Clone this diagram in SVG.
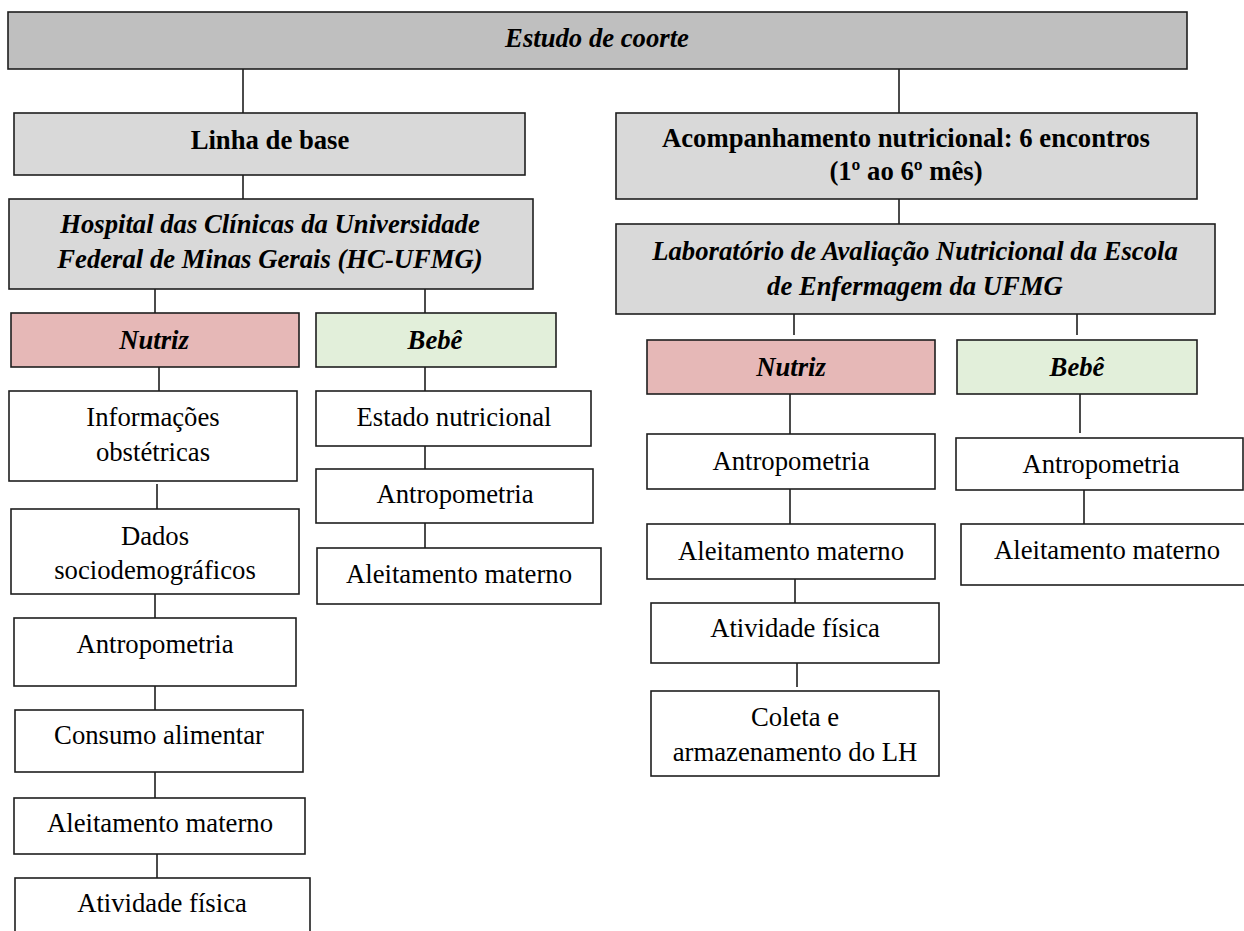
<svg xmlns="http://www.w3.org/2000/svg" width="1244" height="931" viewBox="0 0 1244 931">
<style>
rect{stroke:#1e1e1e;stroke-width:1.6}
.top{fill:#bfbfbf}
.sec{fill:#d9d9d9}
.nut{fill:#e6b8b7}
.beb{fill:#e2efda}
.wh{fill:#ffffff}
text{font-size:26.7px;fill:#000;text-anchor:middle}
.b{font-weight:bold}
.i{font-style:italic}
#connectors line{stroke:#1e1e1e;stroke-width:1.6}
</style>
<rect x="0" y="0" width="1244" height="931" fill="#ffffff" style="stroke:none"/>
<g id="connectors">
<line x1="243" y1="69" x2="243" y2="113"/>
<line x1="899" y1="69" x2="899" y2="113"/>
<line x1="243" y1="175" x2="243" y2="199"/>
<line x1="899" y1="199" x2="899" y2="224"/>
<line x1="155" y1="289" x2="155" y2="313"/>
<line x1="425" y1="289" x2="425" y2="313"/>
<line x1="159" y1="367" x2="159" y2="391"/>
<line x1="157" y1="484" x2="157" y2="509"/>
<line x1="155" y1="594" x2="155" y2="618"/>
<line x1="155" y1="686" x2="155" y2="710"/>
<line x1="155" y1="772" x2="155" y2="798"/>
<line x1="157" y1="854" x2="157" y2="878"/>
<line x1="425" y1="367" x2="425" y2="391"/>
<line x1="425" y1="446" x2="425" y2="469"/>
<line x1="425" y1="523" x2="425" y2="548"/>
<line x1="794" y1="313" x2="794" y2="335"/>
<line x1="1077" y1="313" x2="1077" y2="335"/>
<line x1="790" y1="394" x2="790" y2="434"/>
<line x1="790" y1="489" x2="790" y2="524"/>
<line x1="795" y1="579" x2="795" y2="603"/>
<line x1="797" y1="663" x2="797" y2="687"/>
<line x1="1080" y1="394" x2="1080" y2="433"/>
<line x1="1084" y1="490" x2="1084" y2="524"/>
</g>
<g font-family="'Liberation Serif', 'Times New Roman', 'DejaVu Serif', serif">
<g id="estudo"><rect class="top" x="8" y="12" width="1179" height="57"/><text class="b i" x="597" y="47">Estudo de coorte</text></g>
<g id="linha-base"><rect class="sec" x="14" y="113" width="511" height="62"/><text class="b" x="270" y="149">Linha de base</text></g>
<g id="hc-ufmg"><rect class="sec" x="9" y="199" width="524" height="90"/><text class="b i" x="270" y="233">Hospital das Clínicas da Universidade</text><text class="b i" x="270" y="268">Federal de Minas Gerais (HC-UFMG)</text></g>
<g id="nutriz-l"><rect class="nut" x="11" y="313" width="288" height="54"/><text class="b i" x="154" y="349">Nutriz</text></g>
<g id="bebe-l"><rect class="beb" x="316" y="313" width="240" height="54"/><text class="b i" x="435" y="349">Bebê</text></g>
<g id="info-obst"><rect class="wh" x="9" y="391" width="288" height="90"/><text x="153" y="426">Informações</text><text x="153" y="461">obstétricas</text></g>
<g id="dados-socio"><rect class="wh" x="11" y="509" width="288" height="85"/><text x="155" y="545">Dados</text><text x="155" y="579">sociodemográficos</text></g>
<g id="antro-l"><rect class="wh" x="14" y="618" width="282" height="68"/><text x="155" y="653">Antropometria</text></g>
<g id="consumo"><rect class="wh" x="15" y="710" width="288" height="62"/><text x="159" y="744">Consumo alimentar</text></g>
<g id="aleit-l"><rect class="wh" x="14" y="798" width="291" height="56"/><text x="160" y="832">Aleitamento materno</text></g>
<g id="ativ-l"><rect class="wh" x="15" y="878" width="295" height="60"/><text x="162" y="912">Atividade física</text></g>
<g id="estado-bebe-l"><rect class="wh" x="316" y="391" width="275" height="55"/><text x="454" y="426">Estado nutricional</text></g>
<g id="antro-bebe-l"><rect class="wh" x="316" y="469" width="277" height="54"/><text x="455" y="503">Antropometria</text></g>
<g id="aleit-bebe-l"><rect class="wh" x="317" y="548" width="284" height="56"/><text x="459" y="583">Aleitamento materno</text></g>
<g id="acompanhamento"><rect class="sec" x="616" y="113" width="581" height="86"/><text class="b" x="906" y="147">Acompanhamento nutricional: 6 encontros</text><text class="b" x="906" y="180">(1º ao 6º mês)</text></g>
<g id="laboratorio"><rect class="sec" x="616" y="224" width="599" height="90"/><text class="b i" x="915" y="260">Laboratório de Avaliação Nutricional da Escola</text><text class="b i" x="915" y="295">de Enfermagem da UFMG</text></g>
<g id="nutriz-r"><rect class="nut" x="647" y="340" width="288" height="54"/><text class="b i" x="791" y="376">Nutriz</text></g>
<g id="bebe-r"><rect class="beb" x="957" y="340" width="240" height="54"/><text class="b i" x="1077" y="376">Bebê</text></g>
<g id="antro-r"><rect class="wh" x="647" y="434" width="288" height="55"/><text x="791" y="470">Antropometria</text></g>
<g id="aleit-r"><rect class="wh" x="647" y="524" width="288" height="55"/><text x="791" y="560">Aleitamento materno</text></g>
<g id="ativ-r"><rect class="wh" x="651" y="603" width="288" height="60"/><text x="795" y="637">Atividade física</text></g>
<g id="coleta"><rect class="wh" x="651" y="691" width="288" height="85"/><text x="795" y="726">Coleta e</text><text x="795" y="761">armazenamento do LH</text></g>
<g id="antro-bebe-r"><rect class="wh" x="956" y="438" width="287" height="52"/><text x="1101" y="473">Antropometria</text></g>
<g id="aleit-bebe-r"><rect class="wh" x="961" y="524" width="295" height="61"/><text x="1107" y="559">Aleitamento materno</text></g>
</g>
</svg>
